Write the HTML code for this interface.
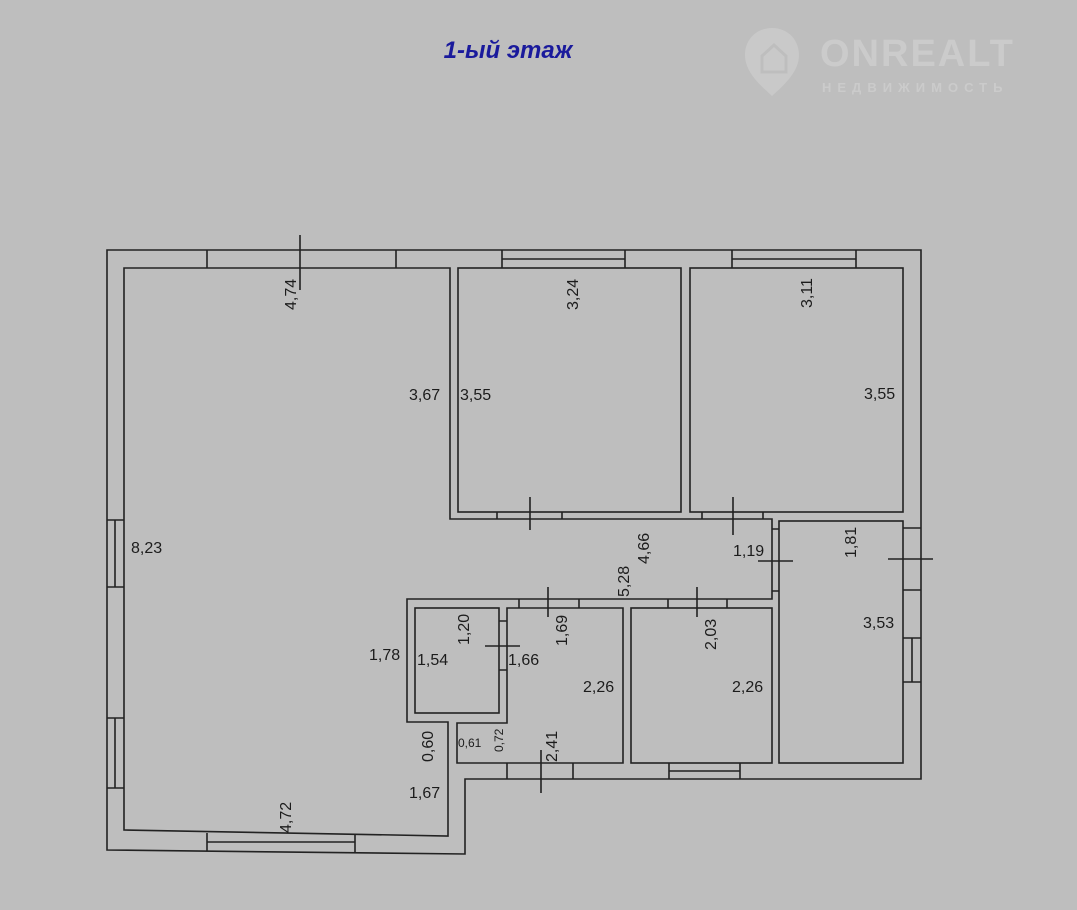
<!DOCTYPE html>
<html><head><meta charset="utf-8"><style>
html,body{margin:0;padding:0;background:#bebebe;}
svg{display:block}
text{font-family:"Liberation Sans",sans-serif;font-size:16px;fill:#1c1c1c}
</style></head><body>
<svg width="1077" height="910" viewBox="0 0 1077 910" xmlns="http://www.w3.org/2000/svg">
<rect width="1077" height="910" fill="#bebebe"/>
<text x="508" y="58" text-anchor="middle" style="font-size:24px;font-weight:bold;font-style:italic;fill:#1a1a9c">1-ый этаж</text>
<g>
<path d="M772,28 C756,28 745,40 745,55 C745,72 760,85 772,96 C784,85 799,72 799,55 C799,40 788,28 772,28 Z" fill="#c9c9c9"/>
<path d="M762,72 V56 L774,45 L786,56 V72 Z" fill="none" stroke="#bebebe" stroke-width="3"/>
<text x="820" y="66" style="font-size:38px;font-weight:bold;fill:#cbcbcb;letter-spacing:2px">ONREALT</text>
<text x="822" y="92" style="font-size:13px;font-weight:bold;fill:#cbcbcb;letter-spacing:6px">НЕДВИЖИМОСТЬ</text>
</g>
<g fill="none" stroke="#222" stroke-width="1.6">
<path d="M107,250 H921 V779 H465 V854 L107,850 Z"/>
<path d="M124,268 H450 V519 H772 V599 H407 V722 H448 V836 L124,830 Z"/>
<rect x="458" y="268" width="223" height="244"/>
<rect x="690" y="268" width="213" height="244"/>
<rect x="779" y="521" width="124" height="242"/>
<rect x="415" y="608" width="84" height="105"/>
<path d="M507,608 H623 V763 H457 V723 H507 Z"/>
<rect x="631" y="608" width="141" height="155"/>
<path d="M207,250V268 M396,250V268 M502,250V268 M625,250V268 M502,259H625 M732,250V268 M856,250V268 M732,259H856"/>
<path d="M107,520H124 M107,587H124 M115,520V587 M107,718H124 M107,788H124 M115,718V788"/>
<path d="M207,833V851 M355,834V852 M207,842H355"/>
<path d="M903,528H921 M903,590H921 M903,638H921 M903,682H921 M912,638V682"/>
<path d="M507,763V779 M573,763V779 M669,763V779 M740,763V779 M669,771H740"/>
<path d="M497,512V519 M562,512V519 M702,512V519 M763,512V519"/>
<path d="M772,529H779 M772,591H779"/>
<path d="M519,599V608 M579,599V608 M668,599V608 M727,599V608"/>
<path d="M499,621H507 M499,670H507"/>
<path d="M300,235V290 M530,497V530 M733,497V535 M758,561H793 M888,559H933 M548,587V617 M697,587V617 M485,646H520 M541,750V793"/>
</g>
<g>
<text transform="translate(296,310) rotate(-90)">4,74</text>
<text transform="translate(578,310) rotate(-90)">3,24</text>
<text transform="translate(812,308) rotate(-90)">3,11</text>
<text x="409" y="400">3,67</text>
<text x="460" y="400">3,55</text>
<text x="864" y="399">3,55</text>
<text x="131" y="553">8,23</text>
<text transform="translate(649,564) rotate(-90)">4,66</text>
<text transform="translate(629,597) rotate(-90)">5,28</text>
<text x="733" y="556">1,19</text>
<text transform="translate(856,558) rotate(-90)">1,81</text>
<text x="863" y="628">3,53</text>
<text x="369" y="660">1,78</text>
<text x="417" y="665">1,54</text>
<text transform="translate(469,645) rotate(-90)">1,20</text>
<text x="508" y="665">1,66</text>
<text transform="translate(567,646) rotate(-90)">1,69</text>
<text transform="translate(716,650) rotate(-90)">2,03</text>
<text x="583" y="692">2,26</text>
<text x="732" y="692">2,26</text>
<text transform="translate(433,762) rotate(-90)">0,60</text>
<text x="458" y="747" style="font-size:12px">0,61</text>
<text transform="translate(503,752) rotate(-90)" style="font-size:12px">0,72</text>
<text transform="translate(557,762) rotate(-90)">2,41</text>
<text x="409" y="798">1,67</text>
<text transform="translate(291,833) rotate(-90)">4,72</text>
</g>
</svg>
</body></html>
